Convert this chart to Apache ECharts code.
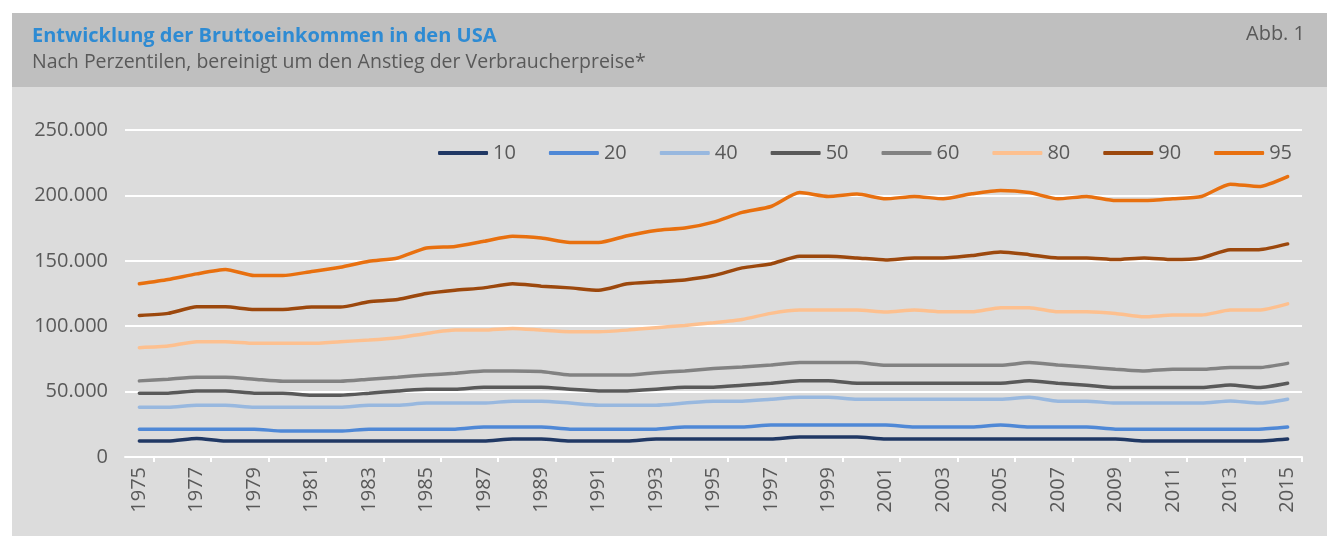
<!DOCTYPE html>
<html lang="de">
<head>
    <meta charset="UTF-8">
    <title>Bruttoeinkommen USA</title>
    <script src="https://cdn.jsdelivr.net/npm/echarts@6/dist/echarts.min.js"></script>
    <style>
        html, body { margin: 0; padding: 0; background: #fff; }
    </style>
</head>
<body>
<div id="main" style="width:1327px;height:536px;"></div>
<script type="text/javascript">
    // Jahre und Perzentil-Reihen
    var years = [];
    for (var y = 1975; y <= 2015; y++) { years.push(String(y)); }

    var yTicks = [0, 50000, 100000, 150000, 200000, 250000];

    var p10 = [12200,12200,14200,12200,12200,12200,12200,12200,12200,12200,12200,12200,12200,13700,
        13700,12200,12200,12200,13700,13700,13700,13700,13700,15200,15200,15200,13700,13700,
        13700,13700,13700,13700,13700,13700,13700,12200,12200,12200,12200,12200,13700];
    var p20 = [21300,21300,21300,21300,21300,19800,19800,19800,21300,21300,21300,21300,22900,22900,
        22900,21300,21300,21300,21300,22900,22900,22900,24400,24400,24400,24400,24400,22900,
        22900,22900,24400,22900,22900,22900,21300,21300,21300,21300,21300,21300,22900];
    var p40 = [38100,38100,39600,39600,38100,38100,38100,38100,39600,39600,41200,41200,41200,42700,
        42700,41200,39600,39600,39600,41200,42700,42700,44200,45700,45700,44200,44200,44200,
        44200,44200,44200,45700,42700,42700,41200,41200,41200,41200,42900,41200,44200];
    var p50 = [48800,48800,50500,50500,48800,48800,47300,47300,48800,50500,51800,51800,53400,53400,
        53400,51800,50500,50500,51800,53400,53400,54900,56400,58200,58200,56400,56400,56400,
        56400,56400,56400,58200,56400,54900,53100,53100,53100,53100,55100,53100,56400];
    var p60 = [58200,59500,61000,61000,59500,57900,57900,57900,59500,61000,62700,64000,65800,65800,
        65300,62700,62700,62700,64500,65800,67600,68800,70400,72200,72200,72200,70100,70100,
        70100,70100,70100,72200,70400,68800,67100,65800,67100,67100,68400,68400,71600];
    var p80 = [83600,84800,88200,88200,86900,86900,86900,88200,89400,91200,94500,97000,97000,98300,
        97000,95800,95800,97000,98900,100600,102700,105200,109800,112300,112300,112300,110800,112300,
        111000,111000,114100,114100,111000,111000,109800,107200,108500,108500,112300,112300,117100];
    var p90 = [108200,109800,114800,114800,112800,112800,114600,114600,118700,120400,125000,127500,129300,132400,
        130600,129300,127500,132400,133900,135400,138700,144600,147600,153400,153400,152200,150700,152200,
        152200,154000,156800,154700,152200,152200,150900,152200,150900,152200,158500,158500,162900];
    var p95 = [132400,135700,140000,143300,138700,138700,141800,145000,149600,152200,159800,161000,164900,168700,
        167400,164000,164000,169200,173200,175000,179600,187000,191500,202200,199200,201000,197400,199200,
        197400,201200,203800,202200,197400,199200,196100,196100,197400,199200,208600,206800,214400];

    var names = ['10', '20', '40', '50', '60', '80', '90', '95'];
    var values = [p10, p20, p40, p50, p60, p80, p90, p95];
    var colors = ['#203864', '#4f88d6', '#98b8df', '#595959', '#828282', '#fdc08f', '#9c480d', '#e8700f'];

    var txt = '#595959';
    var font = '"Open Sans", sans-serif';

    var myChart = echarts.init(document.getElementById('main'));

    var series = names.map(function (n, i) {
        return {
            name: n,
            type: 'line',
            data: values[i],
            symbol: 'none',
            smooth: 0.2,
            lineStyle: { color: colors[i], width: 3.5, cap: 'round' },
            itemStyle: { color: colors[i] }
        };
    });

    var option = {
        backgroundColor: '#ffffff',
        animation: false,
        color: colors,
        textStyle: { fontFamily: font },
        graphic: [
            { type: 'rect', z: -10, shape: { x: 12, y: 13, width: 1315, height: 74 }, style: { fill: '#bfbfbf' } },
            { type: 'rect', z: -10, shape: { x: 12, y: 87, width: 1315, height: 449 }, style: { fill: '#dcdcdc' } },
            {
                type: 'text', right: 22, top: 24,
                style: { text: 'Abb. 1', fill: txt, font: '20px "Open Sans", sans-serif' }
            }
        ],
        title: {
            left: 27, top: 21,
            itemGap: 6,
            text: 'Entwicklung der Bruttoeinkommen in den USA',
            textStyle: { color: '#2e8bd3', fontSize: 20, fontWeight: 'bold', fontFamily: font },
            subtext: 'Nach Perzentilen, bereinigt um den Anstieg der Verbraucherpreise*',
            subtextStyle: { color: txt, fontSize: 19.5, fontFamily: font }
        },
        legend: {
            right: 30, top: 138,
            icon: 'roundRect',
            itemWidth: 50, itemHeight: 4,
            itemGap: 33,
            textStyle: { color: txt, fontSize: 20, fontFamily: font },
            data: names
        },
        grid: { left: 125, right: 25, top: 130, bottom: 79 },
        xAxis: {
            type: 'category',
            data: years,
            boundaryGap: true,
            axisLine: { lineStyle: { color: '#ffffff', width: 2 } },
            axisTick: {
                show: true, length: 5,
                interval: function (i) { return i % 2 === 1; },
                lineStyle: { color: '#ffffff', width: 2 }
            },
            axisLabel: { interval: 1, rotate: 90, color: txt, fontSize: 20, fontFamily: font, margin: 10 }
        },
        yAxis: {
            type: 'value',
            min: yTicks[0], max: yTicks[yTicks.length - 1], interval: 50000,
            axisLine: { show: false },
            axisTick: { show: false },
            splitLine: { lineStyle: { color: '#ffffff', width: 2 } },
            axisLabel: {
                color: txt, fontSize: 20, fontFamily: font, margin: 17,
                formatter: function (v) {
                    return String(v).replace(/\B(?=(\d{3})+(?!\d))/g, '.');
                }
            }
        },
        series: series
    };

    myChart.setOption(option);
</script>
</body>
</html>
